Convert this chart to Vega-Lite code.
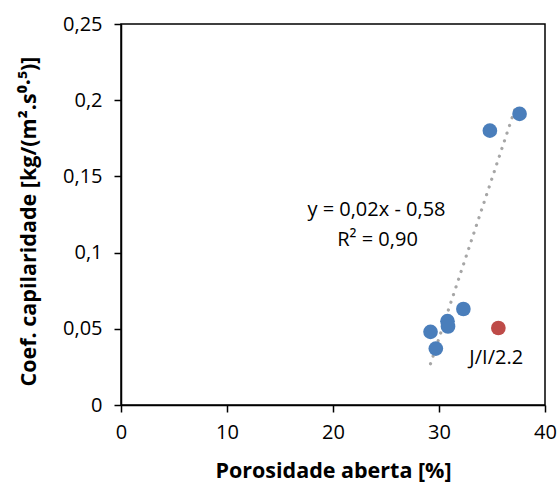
{
  "$schema": "https://vega.github.io/schema/vega-lite/v6.json",
  "width": 424,
  "height": 381,
  "autosize": "none",
  "padding": {"left": 121, "top": 24, "right": 15, "bottom": 81},
  "background": "white",
  "config": {
    "view": {"stroke": "black", "strokeWidth": 1.5},
    "font": "Open Sans",
    "axis": {
      "grid": false,
      "labelFlush": false,
      "domainColor": "black",
      "domainWidth": 1.5,
      "tickColor": "black",
      "tickWidth": 1.5,
      "tickSize": 7,
      "labelFont": "Open Sans",
      "labelFontSize": 20,
      "labelColor": "black",
      "titleFont": "Open Sans",
      "titleFontSize": 21.5,
      "titleFontWeight": "bold",
      "titleColor": "black"
    }
  },
  "datasets": {
    "pts": [
      {"porosidade": 37.6, "coef": 0.191, "grupo": "main"},
      {"porosidade": 34.8, "coef": 0.180, "grupo": "main"},
      {"porosidade": 32.3, "coef": 0.063, "grupo": "main"},
      {"porosidade": 30.8, "coef": 0.055, "grupo": "main"},
      {"porosidade": 30.85, "coef": 0.0515, "grupo": "main"},
      {"porosidade": 29.2, "coef": 0.048, "grupo": "main"},
      {"porosidade": 29.7, "coef": 0.037, "grupo": "main"},
      {"porosidade": 35.6, "coef": 0.0505, "grupo": "J/I/2.2"}
    ],
    "trend": [
      {"porosidade": 29.2, "coef": 0.027},
      {"porosidade": 37.35, "coef": 0.198}
    ],
    "labels": [
      {"porosidade": 24.1, "coef": 0.1282, "txt": "y = 0,02x - 0,58"},
      {"porosidade": 24.2, "coef": 0.1085, "txt": "R² = 0,90"},
      {"porosidade": 35.4, "coef": 0.0308, "txt": "J/I/2.2"}
    ]
  },
  "layer": [
    {
      "data": {"name": "trend"},
      "mark": {"type": "line", "color": "#A6A6A6", "strokeWidth": 3.2, "strokeCap": "round", "strokeDash": [0.1, 8]},
      "encoding": {
        "x": {"field": "porosidade", "type": "quantitative", "scale": {"domain": [0, 40], "nice": false},
          "axis": {"values": [0, 10, 20, 30, 40], "title": "Porosidade aberta [%]", "labelPadding": 10, "titlePadding": 18}},
        "y": {"field": "coef", "type": "quantitative", "scale": {"domain": [0, 0.25], "nice": false},
          "axis": {"values": [0, 0.05, 0.1, 0.15, 0.2, 0.25], "labelExpr": "replace(toString(datum.value), '.', ',')",
            "title": "Coef. capilaridade [kg/(m².s⁰·⁵)]", "labelPadding": 12, "titlePadding": 22, "titleY": 197}}
      }
    },
    {
      "data": {"name": "pts"},
      "mark": {"type": "circle", "size": 215, "opacity": 1},
      "encoding": {
        "x": {"field": "porosidade", "type": "quantitative"},
        "y": {"field": "coef", "type": "quantitative"},
        "color": {"field": "grupo", "type": "nominal", "scale": {"domain": ["main", "J/I/2.2"], "range": ["#4A7EBB", "#BE4B48"]}, "legend": null}
      }
    },
    {
      "data": {"name": "labels"},
      "mark": {"type": "text", "fontSize": 20, "font": "Open Sans", "color": "black", "align": "center", "baseline": "middle"},
      "encoding": {
        "x": {"field": "porosidade", "type": "quantitative"},
        "y": {"field": "coef", "type": "quantitative"},
        "text": {"field": "txt"}
      }
    }
  ]
}
